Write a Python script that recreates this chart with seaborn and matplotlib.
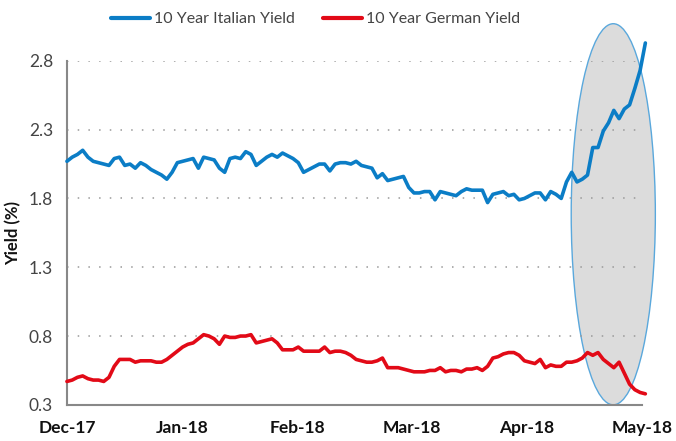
import numpy as np
import pandas as pd
import matplotlib
matplotlib.use('Agg')
import matplotlib.pyplot as plt
from matplotlib.patches import Ellipse
from matplotlib.lines import Line2D
import seaborn as sns

month_labels = ['Dec-17', 'Jan-18', 'Feb-18', 'Mar-18', 'Apr-18', 'May-18']

italy = [2.07, 2.10, 2.12, 2.15, 2.10, 2.07, 2.06, 2.05, 2.04, 2.09,
         2.10, 2.04, 2.05, 2.02, 2.06, 2.04, 2.01, 1.99, 1.97, 1.94,
         1.99, 2.06, 2.07, 2.08, 2.09, 2.02, 2.10, 2.09, 2.08, 2.02,
         1.99, 2.09, 2.10, 2.09, 2.14, 2.12, 2.04, 2.07, 2.10, 2.12,
         2.10, 2.13, 2.11, 2.09, 2.06, 1.99, 2.01, 2.03, 2.05, 2.05,
         2.00, 2.05, 2.06, 2.06, 2.05, 2.07, 2.04, 2.03, 2.02, 1.95,
         1.98, 1.93, 1.94, 1.95, 1.96, 1.88, 1.84, 1.84, 1.85, 1.85,
         1.79, 1.85, 1.84, 1.83, 1.82, 1.85, 1.87, 1.86, 1.86, 1.86,
         1.77, 1.83, 1.84, 1.85, 1.82, 1.83, 1.79, 1.80, 1.82, 1.84,
         1.84, 1.79, 1.85, 1.83, 1.80, 1.92, 1.99, 1.92, 1.94, 1.97,
         2.17, 2.17, 2.29, 2.35, 2.44, 2.38, 2.45, 2.48, 2.60, 2.73,
         2.93]

germany = [0.47, 0.48, 0.50, 0.51, 0.49, 0.48, 0.48, 0.47, 0.50, 0.58,
           0.63, 0.63, 0.63, 0.61, 0.62, 0.62, 0.62, 0.61, 0.61, 0.63,
           0.66, 0.69, 0.72, 0.74, 0.75, 0.78, 0.81, 0.80, 0.78, 0.74,
           0.80, 0.79, 0.79, 0.80, 0.80, 0.81, 0.75, 0.76, 0.77, 0.78,
           0.75, 0.70, 0.70, 0.70, 0.72, 0.69, 0.69, 0.69, 0.69, 0.72,
           0.68, 0.69, 0.69, 0.68, 0.66, 0.63, 0.62, 0.61, 0.61, 0.62,
           0.64, 0.57, 0.57, 0.57, 0.56, 0.55, 0.54, 0.54, 0.54, 0.55,
           0.55, 0.57, 0.54, 0.55, 0.55, 0.54, 0.56, 0.56, 0.57, 0.55,
           0.58, 0.64, 0.65, 0.67, 0.68, 0.68, 0.66, 0.62, 0.61, 0.60,
           0.63, 0.57, 0.59, 0.58, 0.58, 0.61, 0.61, 0.62, 0.64, 0.68,
           0.66, 0.68, 0.63, 0.60, 0.57, 0.61, 0.53, 0.45, 0.41, 0.39,
           0.38]

series_names = ['10 Year Italian Yield', '10 Year German Yield']
colors = ['#0b7dc6', '#e20a17']

day = np.arange(len(italy))
df = pd.DataFrame({
    'day': np.concatenate([day, day]),
    'yield': italy + germany,
    'series': [series_names[0]] * len(italy) + [series_names[1]] * len(germany),
})

sns.set_style('white')
plt.rcParams['font.family'] = ['Lato', 'DejaVu Sans']

fig = plt.figure(figsize=(6.76, 4.41), dpi=100)
ax = fig.add_axes([0.099, 0.082, 0.851, 0.780])

sns.lineplot(data=df, x='day', y='yield', hue='series', palette=colors,
             linewidth=2.6, ax=ax, legend=False, zorder=3)
for ln in ax.lines:
    ln.set_clip_on(False)

# highlight ellipse around the May selloff
ell = Ellipse((103.9, 1.685), 16.0, 2.77, facecolor='#dcdcdc',
              edgecolor='#5aa8dc', linewidth=1.0, zorder=1, clip_on=False)
ax.add_patch(ell)

ax.set_xlim(0, 109.4)
ax.set_ylim(0.3, 2.8)
ax.set_xticks(np.linspace(0, 109.4, 6))
ax.set_xticklabels(month_labels, fontweight='bold', fontsize=12.5, color='#111111')
yt = [0.3, 0.8, 1.3, 1.8, 2.3, 2.8]
ax.set_yticks(yt)
ax.set_yticklabels([f'{v:.1f}' for v in yt], fontsize=12.5, color='#444444')

for v in yt[1:]:
    ax.axhline(v, color='#999999', linestyle=(0, (1, 6)), linewidth=1.1, zorder=2)

for s in ['top', 'right']:
    ax.spines[s].set_visible(False)
for s in ['left', 'bottom']:
    ax.spines[s].set_color('#888888')
    ax.spines[s].set_linewidth(1.5)
ax.tick_params(axis='both', length=6, width=1.2, color='#888888', direction='out')
ax.tick_params(axis='x', pad=5)
ax.tick_params(axis='y', pad=4)

ax.set_xlabel('')
ax.set_ylabel('Yield (%)', fontweight='bold', fontsize=12, color='#111111', labelpad=5)

handles = [Line2D([0], [0], color=c, lw=3) for c in colors]
fig.legend(handles, series_names, loc='upper center', bbox_to_anchor=(0.467, 1.005),
           ncol=2, frameon=False, fontsize=11.5, handlelength=2.4,
           handletextpad=0.25, columnspacing=1.8, labelcolor='#444444')

fig.savefig('out.png', dpi=100)
